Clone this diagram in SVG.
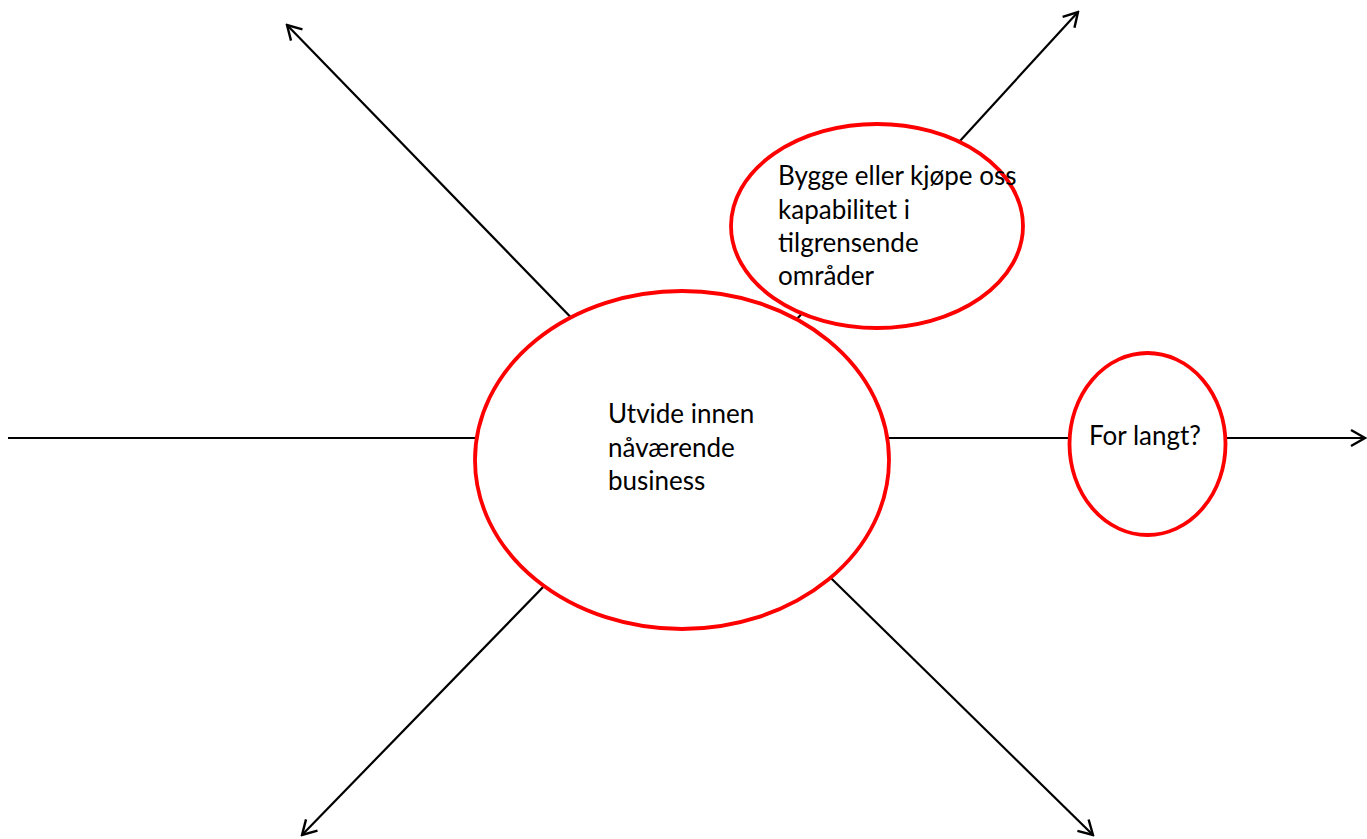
<svg xmlns="http://www.w3.org/2000/svg" width="1367" height="839" viewBox="0 0 1367 839">
  <style>
    .axis { stroke: #000; stroke-width: 2.2; fill: none; marker-end: url(#open-arrow); }
    .bubble { fill: #fff; stroke: #ff0000; stroke-width: 3.8; }
    .label { font-family: Lato, "Open Sans", sans-serif; font-size: 26px; fill: #000; }
  </style>
  <defs>
    <marker id="open-arrow" viewBox="0 0 20 20" refX="18" refY="10" markerWidth="20" markerHeight="20" markerUnits="userSpaceOnUse" orient="auto">
      <path d="M 4 2 L 18 10 L 4 18" fill="none" stroke="#000" stroke-width="2.4"/>
    </marker>
  </defs>
  <rect width="1367" height="839" fill="#fff"/>

  <!-- spokes radiating from the core area -->
  <g id="connectors">
    <line class="axis" x1="688" y1="438" x2="8" y2="438" style="marker-end:none"/>
    <line class="axis" x1="688" y1="438" x2="1365" y2="438"/>
    <line class="axis" x1="688" y1="438" x2="287" y2="25"/>
    <line class="axis" x1="688" y1="438" x2="1078" y2="12"/>
    <line class="axis" x1="688" y1="438" x2="302" y2="835"/>
    <line class="axis" x1="688" y1="438" x2="1093" y2="835"/>
  </g>

  <g id="core">
    <ellipse class="bubble" cx="682" cy="460" rx="207" ry="169"/>
    <text class="label" x="608" y="423">Utvide innen</text>
    <text class="label" x="608" y="457">nåværende</text>
    <text class="label" x="608" y="490">business</text>
  </g>

  <g id="adjacent">
    <ellipse class="bubble" cx="877" cy="226" rx="146" ry="102"/>
    <text class="label" x="778" y="185">Bygge eller kjøpe oss</text>
    <text class="label" x="778" y="219">kapabilitet i</text>
    <text class="label" x="778" y="252">tilgrensende</text>
    <text class="label" x="778" y="285">områder</text>
  </g>

  <g id="too-far">
    <ellipse class="bubble" cx="1147.5" cy="444" rx="78" ry="91"/>
    <text class="label" x="1089" y="445">For langt?</text>
  </g>
</svg>
